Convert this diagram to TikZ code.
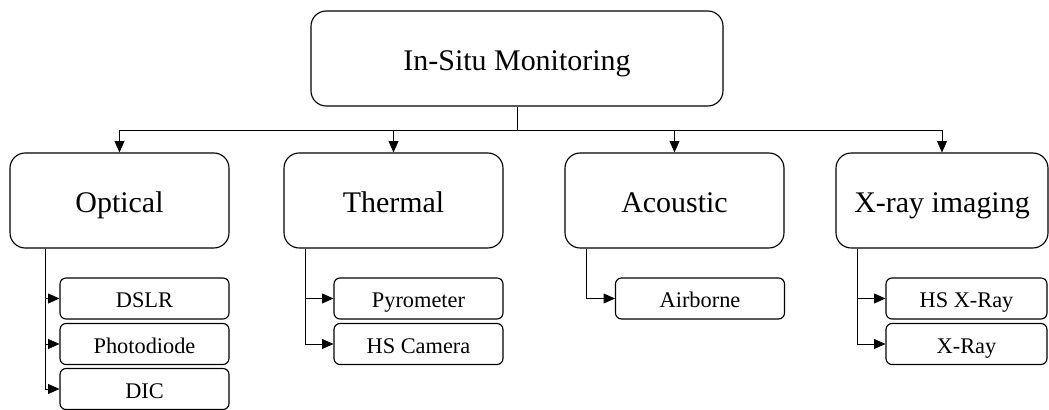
\documentclass[tikz,border=0pt]{standalone}
\usepackage{fontspec}
\setmainfont{Liberation Serif}
\usetikzlibrary{arrows.meta,positioning}

\begin{document}
\begin{tikzpicture}[
  top/.style={draw, line width=0.8pt, rounded corners=0.38cm, minimum width=10.3cm, minimum height=2.375cm, text height=17pt, text depth=0pt, font=\fontsize{21.3}{25}\selectfont},
  branch/.style={draw, line width=0.8pt, rounded corners=0.38cm, minimum width=5.475cm, minimum height=2.375cm, text height=16.4pt, text depth=0pt, font=\fontsize{21.3}{25}\selectfont},
  leaf/.style={draw, line width=0.8pt, rounded corners=0.15cm, minimum width=4.225cm, minimum height=1.025cm, text height=13.2pt, text depth=0pt, font=\fontsize{15.9}{19}\selectfont},
  arr/.style={line width=0.5pt, -{Triangle[length=8pt,width=7pt]}}]
\useasboundingbox (0,0) rectangle (26.225,10.25);
% ---- root
\node[top] (mon) at (12.925,8.7875) {In-Situ Monitoring};
\coordinate (bus) at (12.925,7.0);
% ---- the four families
\node[branch] (opt) at (2.9875,5.2375) {Optical};
\node[branch] (thm) at (9.8375,5.2375) {Thermal};
\node[branch] (aco) at (16.8625,5.2375) {Acoustic};
\node[branch, minimum width=5.3cm] (xry) at (23.55,5.2375) {X-ray imaging};
\draw[line width=0.5pt] (mon.south) -- (bus);
\draw[arr] (bus) -| (opt.north);
\draw[arr] (bus) -| (thm.north);
\draw[arr] (bus) -| (aco.north);
\draw[arr] (bus) -| (xry.north);
% ---- sensors
\node[leaf] (dslr) at (3.6125,2.7875) {DSLR};
\node[leaf] (pd)   at (3.6125,1.65) {Photodiode};
\node[leaf] (dic)  at (3.6125,0.525) {DIC};
\node[leaf] (pyro) at (10.4625,2.7875) {Pyrometer};
\node[leaf] (hsc)  at (10.4625,1.65) {HS Camera};
\node[leaf] (air)  at (17.5,2.7875) {Airborne};
\node[leaf, minimum width=4.025cm] (hsx) at (24.1625,2.7875) {HS X-Ray};
\node[leaf, minimum width=4.025cm] (xr)  at (24.1625,1.65) {X-Ray};
\coordinate (opt-tap) at ([xshift=0.9cm]opt.south west);
\coordinate (thm-tap) at ([xshift=0.55cm]thm.south west);
\coordinate (aco-tap) at ([xshift=0.55cm]aco.south west);
\coordinate (xry-tap) at ([xshift=0.55cm]xry.south west);
\draw[arr] (opt-tap) |- (dslr.west);
\draw[arr] (opt-tap) |- (pd.west);
\draw[arr] (opt-tap) |- (dic.west);
\draw[arr] (thm-tap) |- (pyro.west);
\draw[arr] (thm-tap) |- (hsc.west);
\draw[arr] (aco-tap) |- (air.west);
\draw[arr] (xry-tap) |- (hsx.west);
\draw[arr] (xry-tap) |- (xr.west);
\end{tikzpicture}
\end{document}
